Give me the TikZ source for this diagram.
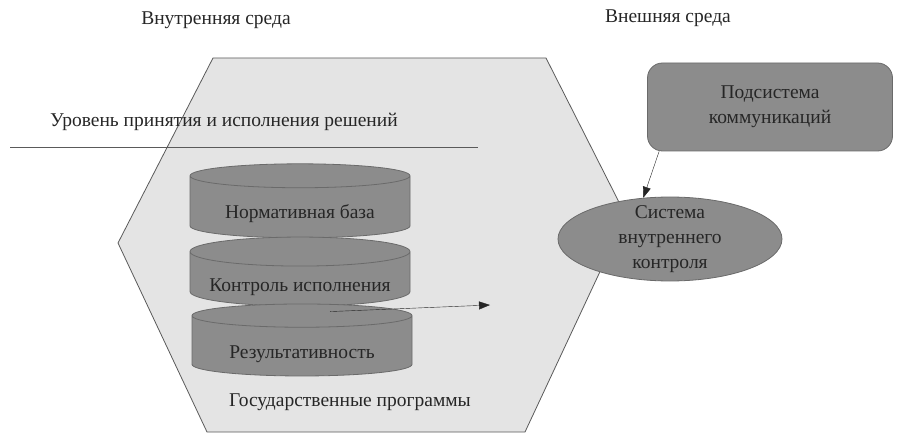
\documentclass[tikz,border=0pt]{standalone}
\usepackage{fontspec}
\setmainfont{Liberation Serif}
\usetikzlibrary{positioning,arrows.meta,shapes.geometric}

\definecolor{hexfill}{HTML}{E4E4E4}
\definecolor{hexline}{HTML}{5A5A5A}
\definecolor{blockfill}{HTML}{8C8C8C}
\definecolor{blockline}{HTML}{6A6A6A}
\definecolor{txt}{HTML}{262626}

\newcommand{\lowered}[1]{\raisebox{-12pt}[0pt][0pt]{#1}}

\begin{document}
\begin{tikzpicture}[
x=1pt, y=-1pt,
font=\fontsize{19.5}{25}\selectfont,
every node/.style={text=txt},
level/.style={cylinder, shape border rotate=90, aspect=0.16, draw=blockline, fill=blockfill, thick, minimum width=220pt, inner sep=0pt, text height=0pt, text depth=0pt},
block/.style={draw=blockline, fill=blockfill, thick, align=center},
arrow/.style={-{Triangle[length=11pt,width=8pt]}, draw=black!85}
]
\useasboundingbox (0,0) rectangle (904,446);

% internal environment
\draw[hexline, fill=hexfill, thick] (213,58) -- (546,58) -- (626,216) -- (525,432) -- (207,432) -- (118,243) -- cycle;

\node (inner) at (216,20) {Внутренняя среда};
\node (outer) at (668,18) {Внешняя среда};

\node (decide) at (224,122) {Уровень принятия и исполнения решений};
\draw[hexline, thin] (10,147) -- (478,147);

\node[level, minimum height=74pt] (norm) at (300,207) {\lowered{Нормативная база}};
\node[level, minimum height=69pt] (check) at (300,279) {\lowered{Контроль исполнения}};
\node[level, minimum height=72pt] (result) at (302,346) {\lowered{Результативность}};

\node (progs) at (350,402) {Государственные программы};

% external environment
\node[block, rounded corners=15pt, minimum width=245pt, minimum height=88pt] (comm) at (770,107) {Подсистема\\коммуникаций};
\node[block, ellipse, minimum width=224pt, minimum height=84pt, inner xsep=0pt, inner ysep=-8pt] (ctrl) at (670,239) {Система\\внутреннего\\контроля};

\coordinate (flowstart) at ([xshift=28pt,yshift=-8pt]result.north);
\coordinate (flowend) at (490,305);

\draw[arrow] (flowstart) -- (flowend);
\draw[arrow] ([xshift=12pt]comm.south west) -- (ctrl.123);

\end{tikzpicture}
\end{document}
